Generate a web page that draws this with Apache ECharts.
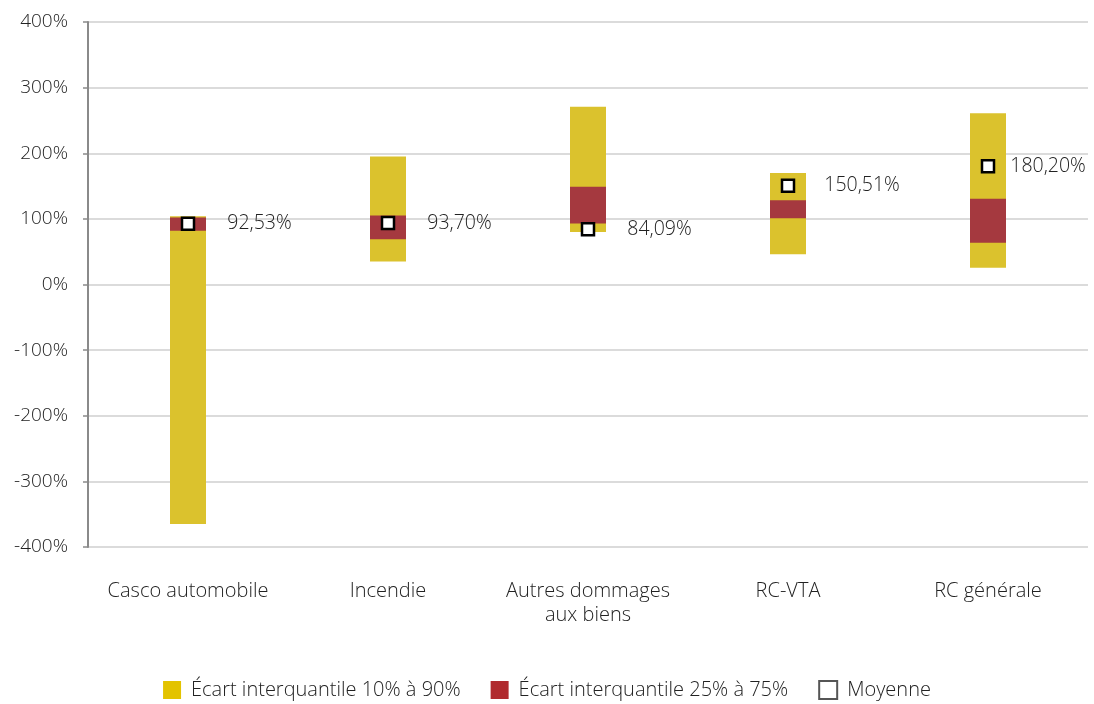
<!DOCTYPE html>
<html><head><meta charset="utf-8">
<script src="https://cdn.jsdelivr.net/npm/echarts@6/dist/echarts.min.js"></script>
<style>html,body{margin:0;padding:0;background:#fff}#c{width:1094px;height:704px}</style>
</head><body><div id="c"></div>
<script>
const categories = ['Casco automobile', 'Incendie', 'Autres dommages\naux biens', 'RC-VTA', 'RC générale'];
const p10 = [-365, 35, 80, 46, 25.4];
const p90 = [104, 195, 271, 170, 261];
const p25 = [82, 69, 93, 101, 63.5];
const p75 = [102, 105, 149, 128.5, 130.6];
const moyenne = [92.53, 93.70, 84.09, 150.51, 180.20];
const yTicks = [-400, -300, -200, -100, 0, 100, 200, 300, 400];

const FONT = '"Open Sans"';
const YEL = '#DBC22D', RED = '#A5393F';

function rangeItem(params, api) {
  const x = api.value(0), lo = api.value(1), hi = api.value(2);
  const a = api.coord([x, hi]), b = api.coord([x, lo]);
  const w = api.size([1, 0])[0] * 0.18;
  return { type: 'rect', shape: { x: a[0] - w / 2, y: a[1], width: w, height: b[1] - a[1] },
           style: { fill: api.visual('color') } };
}

const chart = echarts.init(document.getElementById('c'));
chart.setOption({
  animation: false,
  textStyle: { fontFamily: FONT },
  grid: { left: 88, right: 6, top: 22, bottom: 157, containLabel: false },
  xAxis: {
    type: 'category', data: categories,
    axisLine: { show: false }, axisTick: { show: false },
    axisLabel: { interval: 0, hideOverlap: false, color: '#222', fontSize: 20, margin: 32, lineHeight: 24,
                 fontFamily: FONT, fontWeight: 300 }
  },
  yAxis: {
    type: 'value', min: yTicks[0], max: yTicks[yTicks.length - 1], interval: 100,
    axisLine: { show: true, lineStyle: { color: '#8a8a8a', width: 2 } },
    axisTick: { show: true, length: 5, lineStyle: { color: '#8a8a8a', width: 1.5 } },
    splitLine: { lineStyle: { color: '#cfcfcf', width: 1.5 } },
    axisLabel: { color: '#222', fontSize: 19, margin: 20, fontFamily: FONT, fontWeight: 300, formatter: v => v + '%' }
  },
  legend: {
    top: 675, left: 'center', itemWidth: 18, itemHeight: 18, itemGap: 30,
    textStyle: { color: '#222', fontSize: 20, fontFamily: FONT, fontWeight: 300, padding: [0, 0, 0, 5] },
    data: [
      { name: 'Écart interquantile 10% à 90%', icon: 'rect', itemStyle: { color: '#E3C300' } },
      { name: 'Écart interquantile 25% à 75%', icon: 'rect', itemStyle: { color: '#B02A2E' } },
      { name: 'Moyenne', icon: 'rect', itemStyle: { color: '#fff', borderColor: '#555', borderWidth: 2 } }
    ]
  },
  series: [
    { name: 'Écart interquantile 10% à 90%', type: 'custom', renderItem: rangeItem,
      itemStyle: { color: YEL }, encode: { x: 0, y: [1, 2] },
      data: categories.map((c, i) => [i, p10[i], p90[i]]) },
    { name: 'Écart interquantile 25% à 75%', type: 'custom', renderItem: rangeItem,
      itemStyle: { color: RED }, encode: { x: 0, y: [1, 2] },
      data: categories.map((c, i) => [i, p25[i], p75[i]]) },
    { name: 'Moyenne', type: 'scatter', symbol: 'rect', symbolSize: 12, z: 5,
      itemStyle: { color: '#fff', borderColor: '#000', borderWidth: 2.5, opacity: 1 },
      label: { show: true, position: 'right', distance: 32, color: '#222', fontSize: 19.5, fontFamily: FONT, fontWeight: 300,
               formatter: p => p.value[1].toFixed(2).replace('.', ',') + '%' },
      data: categories.map((c, i) => ({
        value: [i, moyenne[i]],
        label: i === categories.length - 1 ? { distance: 15 } : (i === 3 ? { distance: 29 } : undefined)
      })) }
  ]
});
</script></body></html>
